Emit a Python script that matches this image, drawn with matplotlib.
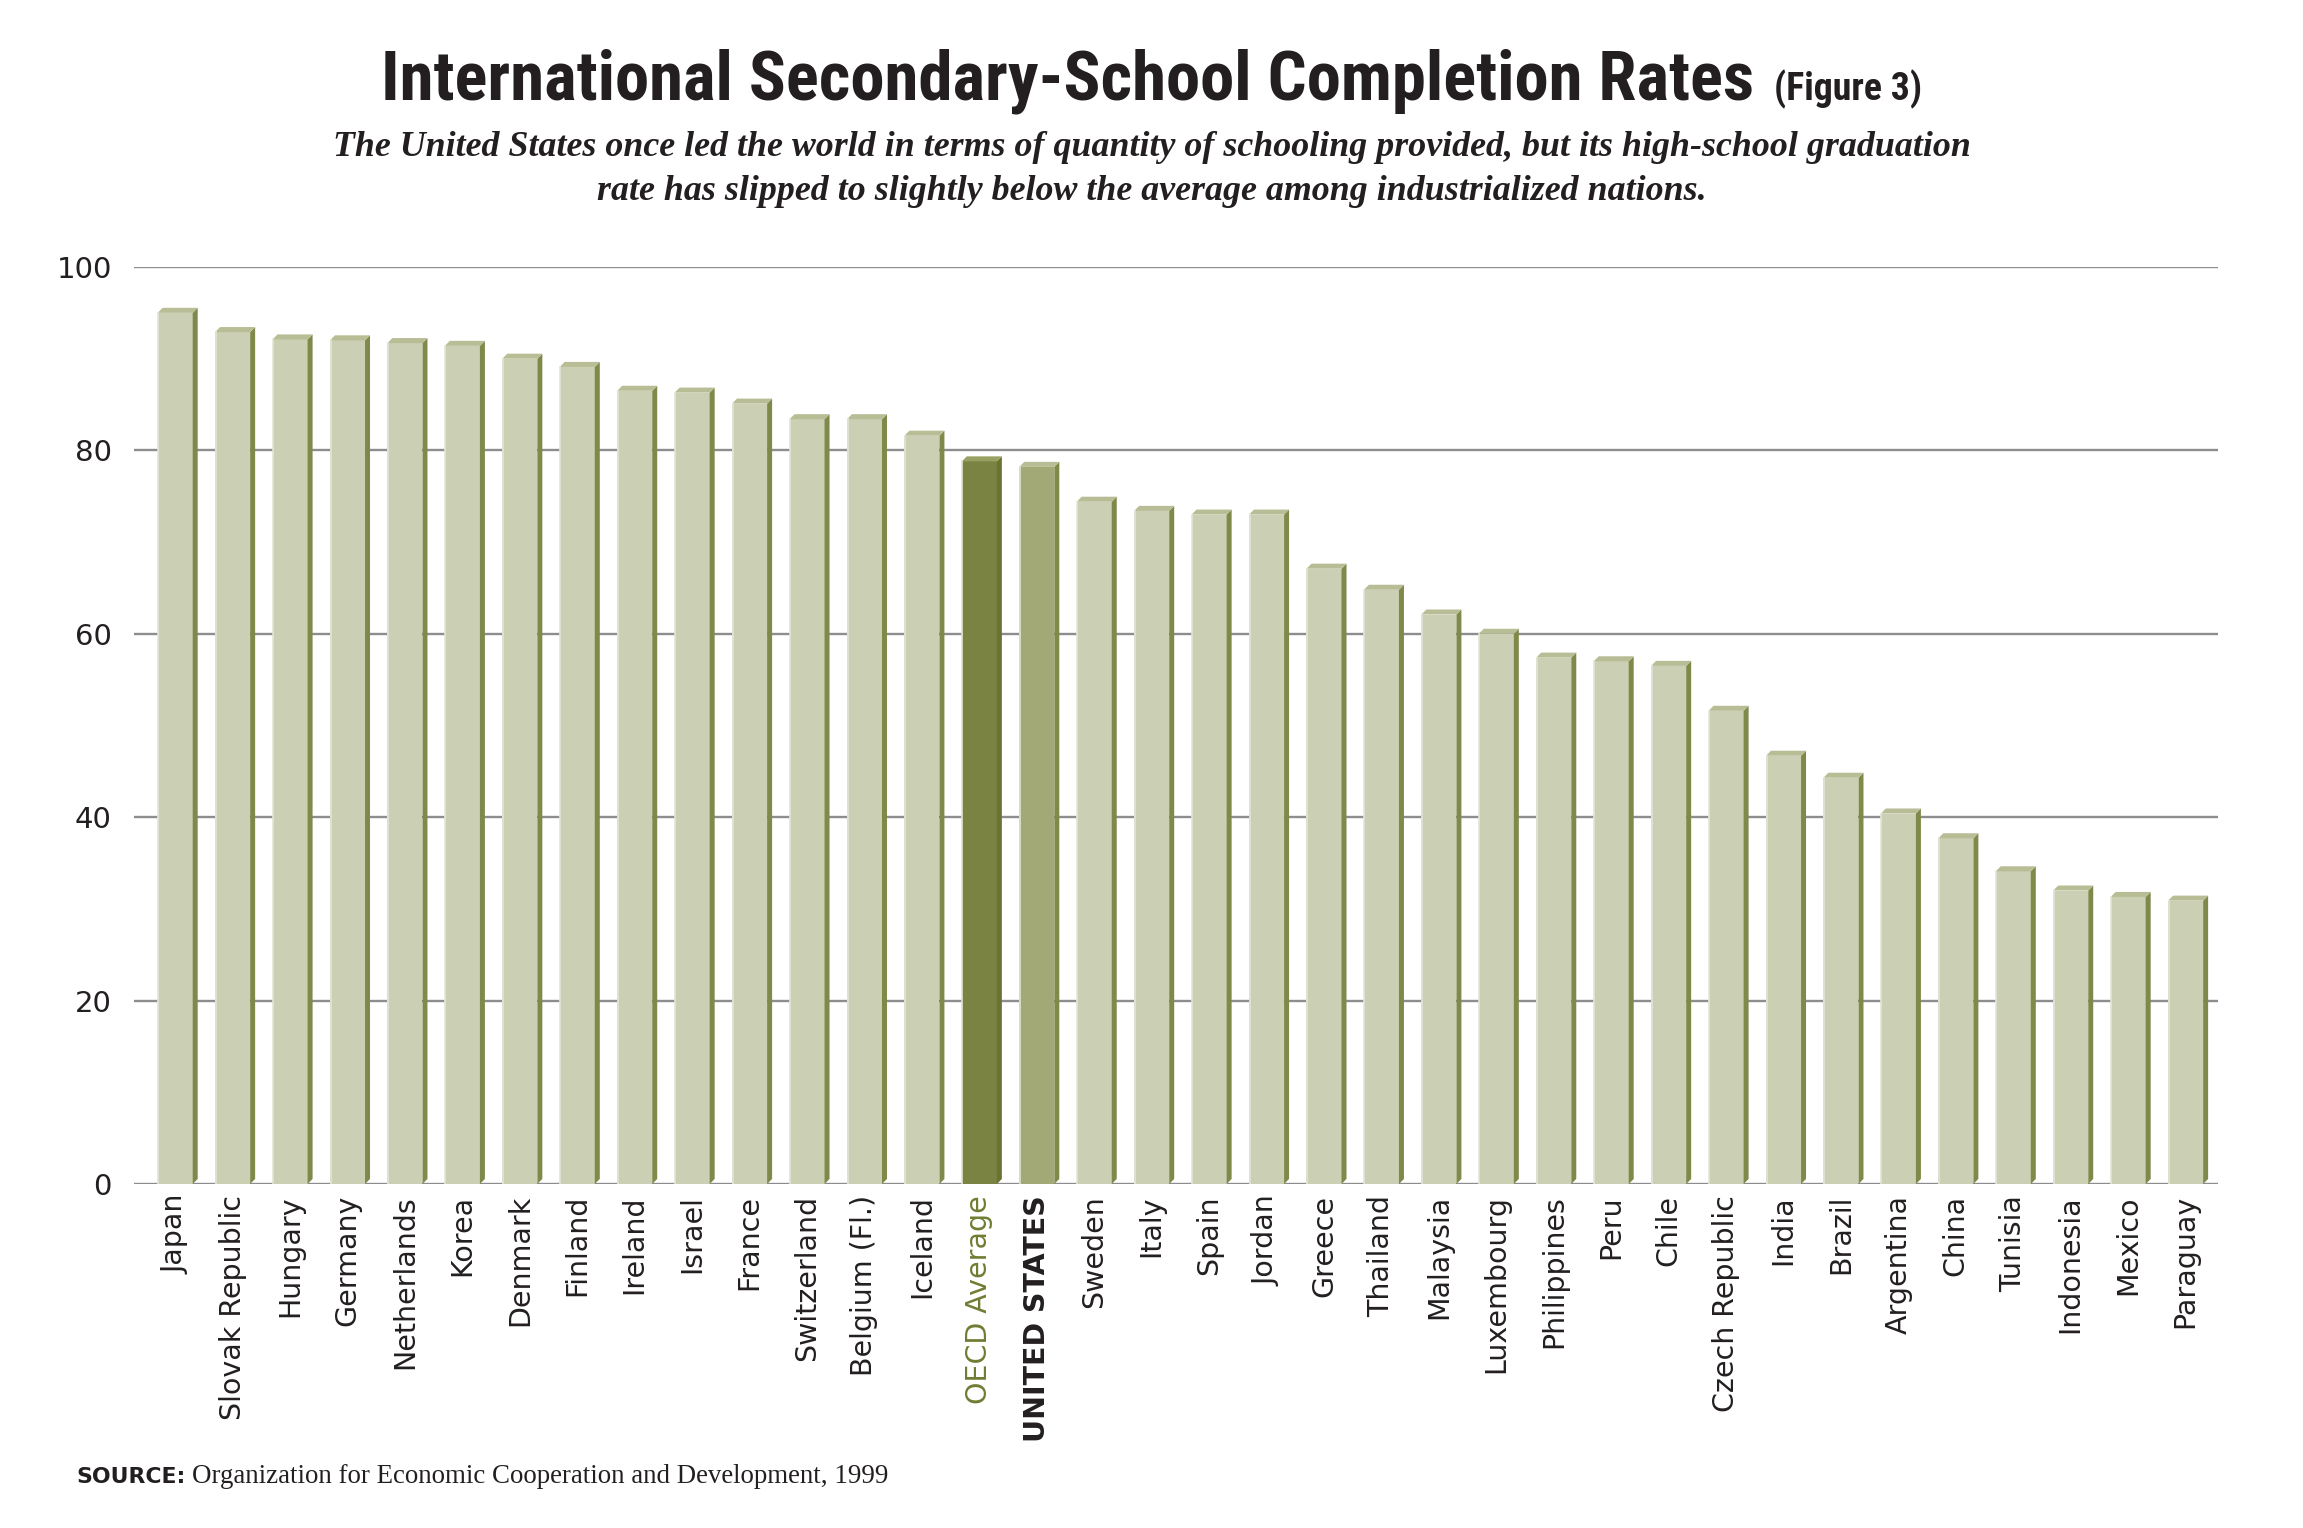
import numpy as np
import matplotlib
matplotlib.use("Agg")
import matplotlib.pyplot as plt
from matplotlib import font_manager

countries = ["Japan", "Slovak Republic", "Hungary", "Germany", "Netherlands", "Korea",
             "Denmark", "Finland", "Ireland", "Israel", "France", "Switzerland",
             "Belgium (Fl.)", "Iceland", "OECD Average", "UNITED STATES", "Sweden",
             "Italy", "Spain", "Jordan", "Greece", "Thailand", "Malaysia", "Luxembourg",
             "Philippines", "Peru", "Chile", "Czech Republic", "India", "Brazil",
             "Argentina", "China", "Tunisia", "Indonesia", "Mexico", "Paraguay"]
rates = [95.0, 92.9, 92.1, 92.0, 91.7, 91.4, 90.0, 89.1, 86.5, 86.3, 85.1, 83.4,
         83.4, 81.6, 78.8, 78.2, 74.4, 73.4, 73.0, 73.0, 67.1, 64.8, 62.1, 60.0,
         57.4, 57.0, 56.5, 51.6, 46.7, 44.3, 40.4, 37.7, 34.1, 32.0, 31.3, 30.9]
yticks = [0, 20, 40, 60, 80, 100]

title = "International Secondary-School Completion Rates"
title_note = "(Figure 3)"
subtitle = ["The United States once led the world in terms of quantity of schooling provided, but its high-school graduation",
            "rate has slipped to slightly below the average among industrialized nations."]
source_lbl = "SOURCE:"
source_txt = "Organization for Economic Cooperation and Development, 1999"

installed = {f.name for f in font_manager.fontManager.ttflist}


def pick(*cands):
    return next((c for c in cands if c in installed), "DejaVu Sans")


title_font = pick("Liberation Sans Narrow", "Roboto Condensed", "Roboto")
serif_font = pick("Liberation Serif", "DejaVu Serif")

# colours: front, side, cap
plain = ("#cbcfb3", "#80894a", "#b8bd96")
oecd = ("#7b8343", "#6a7330", "#98a062")
usa = ("#a3a877", "#7f8a48", "#b9bd95")

W, H = 2303, 1528
fig = plt.figure(figsize=(W / 100, H / 100), dpi=100)
ax = fig.add_axes([134 / W, 1 - 1184 / H, (2218 - 134) / W, (1184 - 267) / H])

x = np.arange(len(countries))
bw, d, dy = 0.61, 0.087, 0.55
styles = [oecd if c == "OECD Average" else usa if c == "UNITED STATES" else plain
          for c in countries]

ax.bar(x, rates, width=bw, color=[s[0] for s in styles], zorder=3)
for xi, v, s in zip(x, rates, styles):
    l, r = xi - bw / 2, xi + bw / 2
    ax.fill([r, r + d, r + d, r], [0, dy, v + dy, v], color=s[1], zorder=3, lw=0, clip_on=False)
    ax.fill([l, l + d, r + d, r], [v, v + dy, v + dy, v], color=s[2], zorder=3, lw=0, clip_on=False)
    ax.plot([l + 0.01, l + 0.01], [0, v], color="#e3e5d5", lw=1.2, zorder=4)

ax.set_xlim(-0.717, 35.564)
ax.set_ylim(0, 100)
ax.set_yticks(yticks)
ax.yaxis.grid(True, color="#8d8d8d", lw=1.7)
ax.set_axisbelow(True)
for sp in ax.spines.values():
    sp.set_visible(False)
ax.tick_params(axis="y", length=0, pad=16, labelsize=21, labelcolor="#231f20")
ax.tick_params(axis="x", length=0, pad=8)
ax.set_xticks(x)
ax.set_xticklabels(countries, rotation=90, va="top", ha="center", fontsize=20.5, color="#231f20")
for lbl in ax.get_xticklabels():
    if lbl.get_text() == "OECD Average":
        lbl.set_color("#6e7d32")
    elif lbl.get_text() == "UNITED STATES":
        lbl.set_fontweight("bold")

# title, fitted to the width of the original
t1 = fig.text(0, 100 / H, title, fontsize=40, fontweight="bold", family=title_font,
              color="#231f20", va="baseline", ha="left")
r = fig.canvas.get_renderer()
w1 = t1.get_window_extent(r).width
t1.set_fontsize(40 * 1372 / w1)
t2 = fig.text(0, 0, title_note, fontsize=t1.get_fontsize() * 0.55, fontweight="bold",
              family=title_font, color="#231f20", va="baseline", ha="left")
w1 = t1.get_window_extent(r).width
w2 = t2.get_window_extent(r).width
gap = 20
x0 = (W - (w1 + gap + w2)) / 2
t1.set_position((x0 / W, 1 - 100 / H))
t2.set_position(((x0 + w1 + gap) / W, 1 - 100 / H))

fig.text(0.5, 1 - 156 / H, subtitle[0], fontsize=25.8, style="italic", fontweight="bold",
         family=serif_font, color="#231f20", ha="center", va="baseline")
fig.text(0.5, 1 - 200 / H, subtitle[1], fontsize=25.8, style="italic", fontweight="bold",
         family=serif_font, color="#231f20", ha="center", va="baseline")

fig.text(76 / W, 1 - 1483 / H, source_lbl, fontsize=15.8, fontweight="bold",
         color="#231f20", va="baseline")
fig.text(192 / W, 1 - 1483 / H, source_txt, fontsize=19.4, family=serif_font,
         color="#231f20", va="baseline")

fig.savefig("out.png", dpi=100)
